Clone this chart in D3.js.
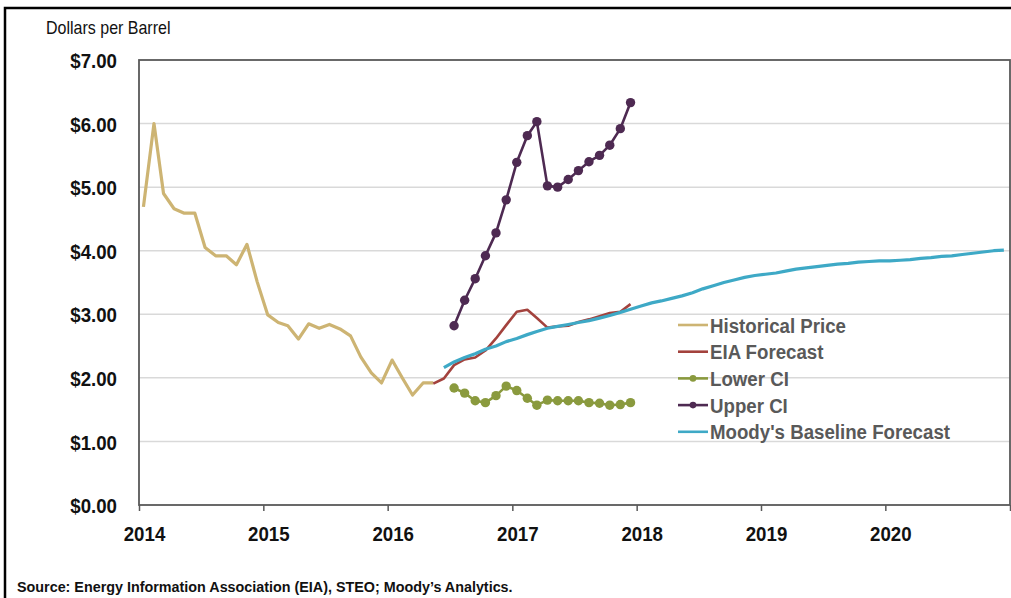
<!DOCTYPE html>
<html>
<head>
<meta charset="utf-8">
<script src="https://cdn.jsdelivr.net/npm/d3@7"></script>
<style>
  body { margin: 0; background: #fff; }
  text { font-family: "Liberation Sans", Arial, sans-serif; }
</style>
</head>
<body>
<div id="chart"></div>
<script>
// monthly series, values in dollars per barrel
let histStart = [2014, 0]
let histPrice = [4.69, 6.00, 4.90, 4.66, 4.59, 4.59, 4.05, 3.92, 3.92, 3.78, 4.10, 3.51,
  2.99, 2.87, 2.82, 2.61, 2.85, 2.78, 2.84, 2.77, 2.66, 2.33, 2.08, 1.92,
  2.28, 1.99, 1.73, 1.92, 1.92]
let eiaStart = [2016, 4]
let eiaForecast = [1.91, 1.99, 2.20, 2.29, 2.32, 2.43, 2.62, 2.83, 3.04, 3.07,
  2.94, 2.79, 2.81, 2.82, 2.88, 2.92, 2.97, 3.02, 3.04, 3.16]
let ciStart = [2016, 6]
let lowerCI = [1.84, 1.76, 1.64, 1.61, 1.72, 1.87, 1.80, 1.68, 1.57, 1.65, 1.64, 1.64,
  1.64, 1.61, 1.60, 1.57, 1.58, 1.61]
let upperCI = [2.82, 3.22, 3.56, 3.92, 4.28, 4.80, 5.39, 5.81, 6.03, 5.02, 5.00, 5.12,
  5.26, 5.40, 5.50, 5.66, 5.92, 6.33]
let moodyStart = [2016, 5]
let moodyBase = [2.16, 2.25, 2.32, 2.38, 2.45, 2.50, 2.57, 2.62, 2.68, 2.73, 2.78, 2.81,
  2.84, 2.87, 2.90, 2.94, 2.98, 3.03, 3.08, 3.13, 3.18, 3.21, 3.25, 3.29,
  3.34, 3.40, 3.45, 3.50, 3.54, 3.58, 3.61, 3.63, 3.65, 3.68, 3.71, 3.73,
  3.75, 3.77, 3.79, 3.80, 3.82, 3.83, 3.84, 3.84, 3.85, 3.86, 3.88, 3.89,
  3.91, 3.92, 3.94, 3.96, 3.98, 4.00, 4.01]
let yTicks = [0, 1, 2, 3, 4, 5, 6, 7]
let seriesNames = ['Historical Price', 'EIA Forecast', 'Lower CI', 'Upper CI', "Moody's Baseline Forecast"]
let seriesColors = ['#cdb473', '#a3423d', '#8a9a3e', '#4e2a52', '#3ea9c6']

let w = 1011, h = 598
let sx = 0.89  // horizontal squeeze of the lettering
let pLeft = 139, pRight = 1010, pTop = 60, pBottom = 505

let toSeries = (start, vals) => vals.map((v, i) => ({date: new Date(start[0], start[1] + i, 14), v: v}))
let series = [
  {name: seriesNames[0], color: seriesColors[0], data: toSeries(histStart, histPrice), dots: false, width: 3.2},
  {name: seriesNames[1], color: seriesColors[1], data: toSeries(eiaStart, eiaForecast), dots: false, width: 2.6},
  {name: seriesNames[2], color: seriesColors[2], data: toSeries(ciStart, lowerCI), dots: true, width: 2.6},
  {name: seriesNames[3], color: seriesColors[3], data: toSeries(ciStart, upperCI), dots: true, width: 2.6},
  {name: seriesNames[4], color: seriesColors[4], data: toSeries(moodyStart, moodyBase), dots: false, width: 3.2}
]

let svg = d3.select('#chart').append('svg').attr('width', w).attr('height', h)

// outer frame (only top and left visible)
svg.append('path').attr('d', 'M5,' + (h + 5) + 'V8H' + (w + 5))
  .attr('fill', 'none').attr('stroke', '#000').attr('stroke-width', 2.5)

let x = d3.scaleTime().domain([new Date(2014, 0, 1), new Date(2021, 0, 1)]).range([pLeft, pRight])
let y = d3.scaleLinear().domain([0, 7]).range([pBottom, pTop])

// gridlines
svg.append('g').selectAll('line').data(yTicks.filter(d => d > 0 && d < 7)).enter().append('line')
  .attr('x1', pLeft).attr('x2', pRight).attr('y1', d => y(d)).attr('y2', d => y(d))
  .attr('stroke', '#d9d9d9').attr('stroke-width', 1.5)

// y axis labels
let yAxis = d3.axisLeft(y).tickValues(yTicks).tickSize(0).tickFormat(d => '$' + d.toFixed(2))
let gy = svg.append('g').attr('transform', 'translate(' + pLeft + ',0)').call(yAxis)
gy.select('.domain').remove()
gy.selectAll('text').attr('x', -22 / sx).attr('dy', '0.36em')
  .attr('transform', 'scale(' + sx + ',1)')
  .style('font-size', '21px').style('font-weight', 'bold').attr('fill', '#111')

// x axis
let xAxis = d3.axisBottom(x).ticks(d3.timeYear.every(1)).tickSize(6)
  .tickFormat(d => d.getFullYear() < 2021 ? d3.timeFormat('%Y')(d) : '')
let gx = svg.append('g').attr('transform', 'translate(0,' + pBottom + ')').call(xAxis)
gx.select('.domain').remove()
gx.selectAll('line').attr('stroke', '#595959').attr('stroke-width', 1.5)
gx.selectAll('text').attr('transform', 'translate(5,0) scale(' + sx + ',1)')
  .attr('y', 36).attr('dy', 0)
  .style('font-size', '21px').style('font-weight', 'bold').attr('fill', '#111')

// plot frame
svg.append('rect').attr('x', pLeft).attr('y', pTop).attr('width', pRight - pLeft).attr('height', pBottom - pTop)
  .attr('fill', 'none').attr('stroke', '#595959').attr('stroke-width', 1.8)

// lines
let line = d3.line().x(d => x(d.date)).y(d => y(d.v))
series.forEach(s => {
  svg.append('path').datum(s.data).attr('d', line)
    .attr('fill', 'none').attr('stroke', s.color).attr('stroke-width', s.width)
    .attr('stroke-linejoin', 'round')
  if (s.dots) {
    svg.append('g').selectAll('circle').data(s.data).enter().append('circle')
      .attr('cx', d => x(d.date)).attr('cy', d => y(d.v)).attr('r', 4.7).attr('fill', s.color)
  }
})

// legend
let legend = svg.append('g').attr('transform', 'translate(678,325)')
let row = legend.selectAll('g').data(series).enter().append('g')
  .attr('transform', (d, i) => 'translate(0,' + (i * 26.7) + ')')
row.append('line').attr('x1', 0).attr('x2', 30).attr('stroke', d => d.color).attr('stroke-width', 2.6)
row.filter(d => d.dots).append('circle').attr('cx', 15).attr('r', 3.3).attr('fill', d => d.color)
row.append('text').attr('transform', 'translate(32,0) scale(' + sx + ',1)').attr('dy', '0.36em')
  .style('font-size', '21px').style('font-weight', 'bold').attr('fill', '#595959')
  .text(d => d.name)

// titles
svg.append('text').attr('transform', 'translate(46,34) scale(' + sx + ',1)')
  .style('font-size', '18px').attr('fill', '#111').text('Dollars  per Barrel')
svg.append('text').attr('transform', 'translate(17,592) scale(0.97,1)')
  .style('font-size', '14.8px').style('font-weight', 'bold').attr('fill', '#111')
  .text('Source: Energy Information Association (EIA), STEO; Moody\u2019s Analytics.')
</script>
</body>
</html>
